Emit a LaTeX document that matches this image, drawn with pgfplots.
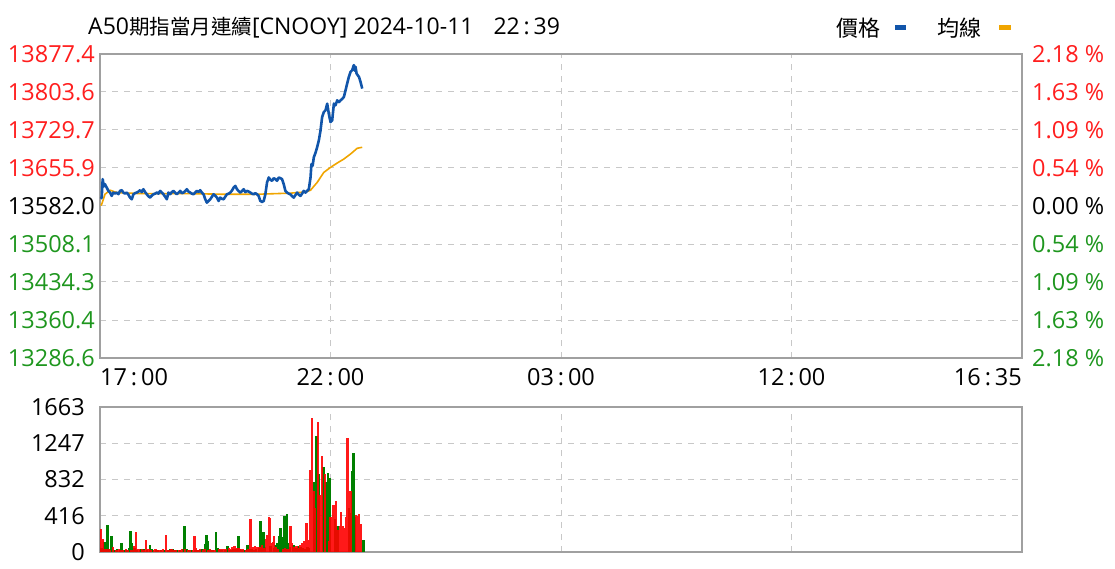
\documentclass[border=0pt]{standalone}
\usepackage{fontspec}
\setmainfont{Open Sans}
\newfontfamily\cjk{Noto Sans CJK TC}
\usepackage{pgfplots}
\usepackage{pgfplotstable}
\pgfplotsset{compat=1.18}

\definecolor{priceblue}{RGB}{17,85,170}
\definecolor{avgorange}{RGB}{240,165,0}
\definecolor{lblred}{RGB}{255,30,30}
\definecolor{lblgreen}{RGB}{30,150,30}
\definecolor{volred}{RGB}{255,0,0}
\definecolor{volgreen}{RGB}{0,128,0}
\definecolor{framegray}{RGB}{160,160,160}
\definecolor{gridgray}{RGB}{200,200,200}

\newcommand\lf{\fontsize{23.5}{25}\selectfont}

% minutes after 17:00 (22:00 = 300, 03:00 = 600, 12:00 = 900, 16:35 = 1200)
\pgfplotstableread{
m v
1 13596
2.2 13598.3
3.5 13634.2
5 13620
6.5 13624.4
8.7 13617.9
10.9 13611.4
13.1 13608.1
15.2 13601.6
17.4 13608.1
19.5 13606
21.7 13608.1
24 13605
26.1 13611.4
28.3 13612.7
30.4 13608.1
32.6 13606
34.8 13608.1
37 13604
39.1 13598.3
41.3 13595.1
43.5 13604.8
45.6 13607
47.8 13608.1
50 13610
52.2 13612.7
54.3 13609
56.5 13614.6
58.7 13609
60.9 13604.8
63 13601
65.2 13598.3
67.4 13602
69.6 13604.8
71.7 13606
73.9 13608.1
76 13606
78.3 13611.4
80.4 13608
82.6 13604.8
84.8 13600
87.0 13595.1
89.1 13608.1
91.3 13605
93.5 13609
95.7 13611.4
97.8 13608
100.0 13604.8
102.2 13608
104.4 13611.4
106.5 13607
108.7 13608.1
110.9 13611
113.0 13614.6
115.2 13610
117.4 13608.1
119.6 13606
121.7 13604.8
123.9 13608
126.1 13611.4
128.3 13609
130.4 13612.7
132.6 13608
134.8 13604.8
137.0 13595.1
139.1 13588.5
141.3 13592
143.5 13595.1
145.7 13600
147.8 13604.8
150 13602
152.2 13598.3
154.4 13591.8
156.5 13598.3
158.7 13596
160.9 13595.1
163 13600
165.2 13604.8
167.4 13606
169.6 13608.1
171.7 13612
174.0 13617.9
176.1 13621.1
178.3 13614.6
180.4 13611
182.6 13608.1
184.8 13611
187.0 13614.6
189.1 13609
191.3 13611.4
193.5 13610
195.7 13608.1
197.8 13606
200.0 13604.8
202.2 13607
204.4 13604.8
206.5 13601.6
208.7 13591.8
211 13590
213.1 13591.8
215.2 13604.8
217.4 13627.7
219.6 13637.4
221.7 13633
223.9 13630.9
226.1 13636
228.3 13634.2
230.4 13631
232.6 13637.4
234.8 13636
237.0 13634.2
239.1 13624.4
241.3 13611.4
243.5 13608.1
245.6 13606
247.8 13604.8
250 13601
252.2 13598.3
254.3 13603
256.5 13608.1
258.7 13604
260.9 13601.6
263 13606
265.2 13611.4
267.4 13608
269.6 13611.4
271.8 13614.6
274.0 13637.4
275.2 13663.5
276.7 13660
278.3 13676.6
280.4 13685
282.6 13696.1
284.8 13709.2
287.0 13728.7
289.1 13754.8
291.3 13764.6
293.5 13767.8
295.7 13780.9
297.8 13761.3
300.0 13745.0
302.2 13748.3
304.4 13780.9
306.5 13777.6
308.7 13787.4
311 13784
313.1 13787.4
315.2 13790
317.4 13793.9
319.6 13807.0
321.7 13820.0
323.9 13833.0
326.1 13842.8
328.3 13846.1
329.5 13852
330.4 13855.9
331.5 13845
332.6 13852.6
333.9 13839.6
335.5 13836
337.0 13833.0
339.1 13823.3
341.3 13810.2
}\pricetab

\pgfplotstableread{
m v
1 13583
2.2 13585.3
6.5 13604.8
13.1 13612.7
21.7 13608.1
52 13606.1
117 13606.1
161 13604.8
204 13604.8
248 13607
265 13609
269.6 13610.1
274 13612.7
282.6 13627.7
291.3 13647.2
300 13657.0
308.7 13665.5
317.4 13673.3
326.1 13683.1
334.8 13694.2
341.3 13696.1
}\avgtab

\pgfplotstableread{
m v
1 265
3 151
5 40
8 30
11 35
13 25
17 60
21 20
23 25
25 30
27 20
30 20
34 40
36 25
41 20
44 70
47 227
49 30
51 30
55 40
57 20
60 132
63 30
66 25
70 20
72 30
76 25
79 20
82 30
86 200
88 25
90 20
93 30
96 25
99 20
103 20
105 25
107 40
111 30
115 25
117 20
121 25
123 181
125 50
128 20
130 30
134 20
136 30
141 25
143 30
146 20
148 25
150 25
155 30
158 40
160 25
162 30
164 35
168 50
170 40
172 60
175 70
178 50
181 45
183 30
186 30
190 25
193 40
196 382
199 60
202 70
205 60
208 60
211 80
214 50
216 150
218 200
220 404
221.5 395
223 100
225 120
226.5 180
229 60
232 30
238 40
241 50
244 30
248 295
250 100
253 60
256 70
258 50
260 80
262 70
263 100
265 90
266 130
268 60
269 333
271 140
273 400
274 945
276 1538
278 700
280 500
284 1493
287 650
289 1096
293 900
298 130
300 400
302 300
304 540
307 586
310 250
312 300
314 454
316 300
318 280
320 400
322 1312
326 700
333 420
335 416
337 440
339 320
}\redvol

\pgfplotstableread{
m v
0 40
2 50
4 30
6 120
9 40
10 314
12 40
14 25
15 181
19 20
22 30
26 20
28 100
32 20
35 20
38 50
39.5 246
41 100
43 30
45 50
48 25
52 20
54 30
57 30
61 20
65 80
67 30
69 25
73 20
75 20
79 20
84 20
89 25
92 30
95 30
98 20
100 20
104 20
108 30
110 295
113 30
116 20
119 20
124 25
127 20
131 20
133 30
135 40
137 90
138.5 200
140 130
142 30
145 20
147 25
151 227
153 50
154 30
157 20
158 20
163 25
166 70
169 20
170 20
174 30
177 40
180 181
182 30
185 20
187 20
189 25
192 80
195 30
198 40
200 20
203 30
207 50
209 359
211 50
213 227
215 60
222 70
227 50
228 80
231 100
233 180
234 100
235 276
237 170
239 120
240 416
242 140
243 435
245 100
247 60
251 70
252 80
255 50
258 70
261 60
264 50
267 40
270 60
272 50
279 800
282 1334
285 900
291 971
293.5 800
295 700
296.5 907
298.5 850
306 380
309 300
324 500
326 450
328 926
330 1134
331.5 400
343 132
}\greenvol

\pgfplotsset{
  panel/.style={
    scale only axis, width=922pt, xmin=0, xmax=1200,
    xtick={0,300,600,900,1200}, xticklabels={},
    scaled y ticks=false,
    grid=major,
    major grid style={draw=gridgray, line width=1pt, dash pattern=on 6pt off 6pt},
    axis line style={draw=framegray, line width=2pt},
    major tick length=0pt,
    yticklabel style={font=\lf, anchor=east, inner sep=2pt, xshift=-3pt},
  },
}

\begin{document}
\begin{tikzpicture}

% price panel
\begin{axis}[panel, at={(100pt,210pt)}, anchor=south west, height=304pt,
  ymin=13286.6, ymax=13877.4,
  ytick={13286.6,13360.4,13434.3,13508.1,13582.0,13655.9,13729.7,13803.6,13877.4},
  yticklabels={\textcolor{lblgreen}{13286.6},\textcolor{lblgreen}{13360.4},
    \textcolor{lblgreen}{13434.3},\textcolor{lblgreen}{13508.1},
    \textcolor{black}{13582.0},\textcolor{lblred}{13655.9},
    \textcolor{lblred}{13729.7},\textcolor{lblred}{13803.6},\textcolor{lblred}{13877.4}},
  clip=false]
\addplot[avgorange, line width=1.6pt] table[x=m, y=v] {\avgtab};
\addplot[priceblue, line width=2.6pt, line join=round] table[x=m, y=v] {\pricetab};
\node[font=\lf, anchor=north west, inner sep=0pt] at (axis cs:0,13286.6) [yshift=-10pt] {17\,:\,00};
\node[font=\lf, anchor=north, inner sep=0pt] at (axis cs:300,13286.6) [yshift=-10pt] {22\,:\,00};
\node[font=\lf, anchor=north, inner sep=0pt] at (axis cs:600,13286.6) [yshift=-10pt] {03\,:\,00};
\node[font=\lf, anchor=north, inner sep=0pt] at (axis cs:900,13286.6) [yshift=-10pt] {12\,:\,00};
\node[font=\lf, anchor=north east, inner sep=0pt] at (axis cs:1200,13286.6) [yshift=-10pt] {16\,:\,35};
\end{axis}

% right-hand percentage labels
\begin{axis}[at={(100pt,210pt)}, anchor=south west, scale only axis,
  width=922pt, height=304pt, xmin=0, xmax=1200,
  ymin=13286.6, ymax=13877.4, hide x axis, axis y line*=right,
  scaled y ticks=false,
  y axis line style={draw=none}, major tick length=0pt,
  ytick={13286.6,13360.4,13434.3,13508.1,13582.0,13655.9,13729.7,13803.6,13877.4},
  yticklabels={\textcolor{lblgreen}{2.18 \%},\textcolor{lblgreen}{1.63 \%},
    \textcolor{lblgreen}{1.09 \%},\textcolor{lblgreen}{0.54 \%},
    \textcolor{black}{0.00 \%},\textcolor{lblred}{0.54 \%},
    \textcolor{lblred}{1.09 \%},\textcolor{lblred}{1.63 \%},\textcolor{lblred}{2.18 \%}},
  yticklabel style={font=\lf, anchor=west, inner sep=2pt, xshift=8pt}]
\addplot[draw=none] coordinates {(0,13582.0)};
\end{axis}

% volume panel
\begin{axis}[panel, at={(100pt,16pt)}, anchor=south west, height=145pt,
  ymin=0, ymax=1663, ytick={0,416,832,1247,1663},
  yticklabels={0,416,832,1247,1663},
  yticklabel style={xshift=-10pt}]
\addplot[ycomb, volgreen, line width=2.4pt] table[x=m, y=v] {\greenvol};
\addplot[ycomb, volred, line width=2.4pt, opacity=0.9] table[x=m, y=v] {\redvol};
\end{axis}

% title and legend
\node[anchor=west, inner sep=0pt, font=\fontsize{23}{25}\selectfont] at (88pt,540pt)
  {A50{\cjk\fontsize{20.5}{22}\selectfont 期指當月連續}[CNOOY] 2024-10-11\hspace{20pt}22\,:\,39};
\node[anchor=west, inner sep=0pt, font=\cjk\fontsize{22}{24}\selectfont] at (836pt,540pt) {價格};
\fill[priceblue] (895pt,538pt) rectangle (906pt,542.5pt);
\node[anchor=west, inner sep=0pt, font=\cjk\fontsize{22}{24}\selectfont] at (937pt,540pt) {均線};
\fill[avgorange] (999pt,538pt) rectangle (1011pt,542.5pt);

\pgfresetboundingbox
\path[use as bounding box] (0,0) rectangle (1115pt,568pt);
\end{tikzpicture}
\end{document}
